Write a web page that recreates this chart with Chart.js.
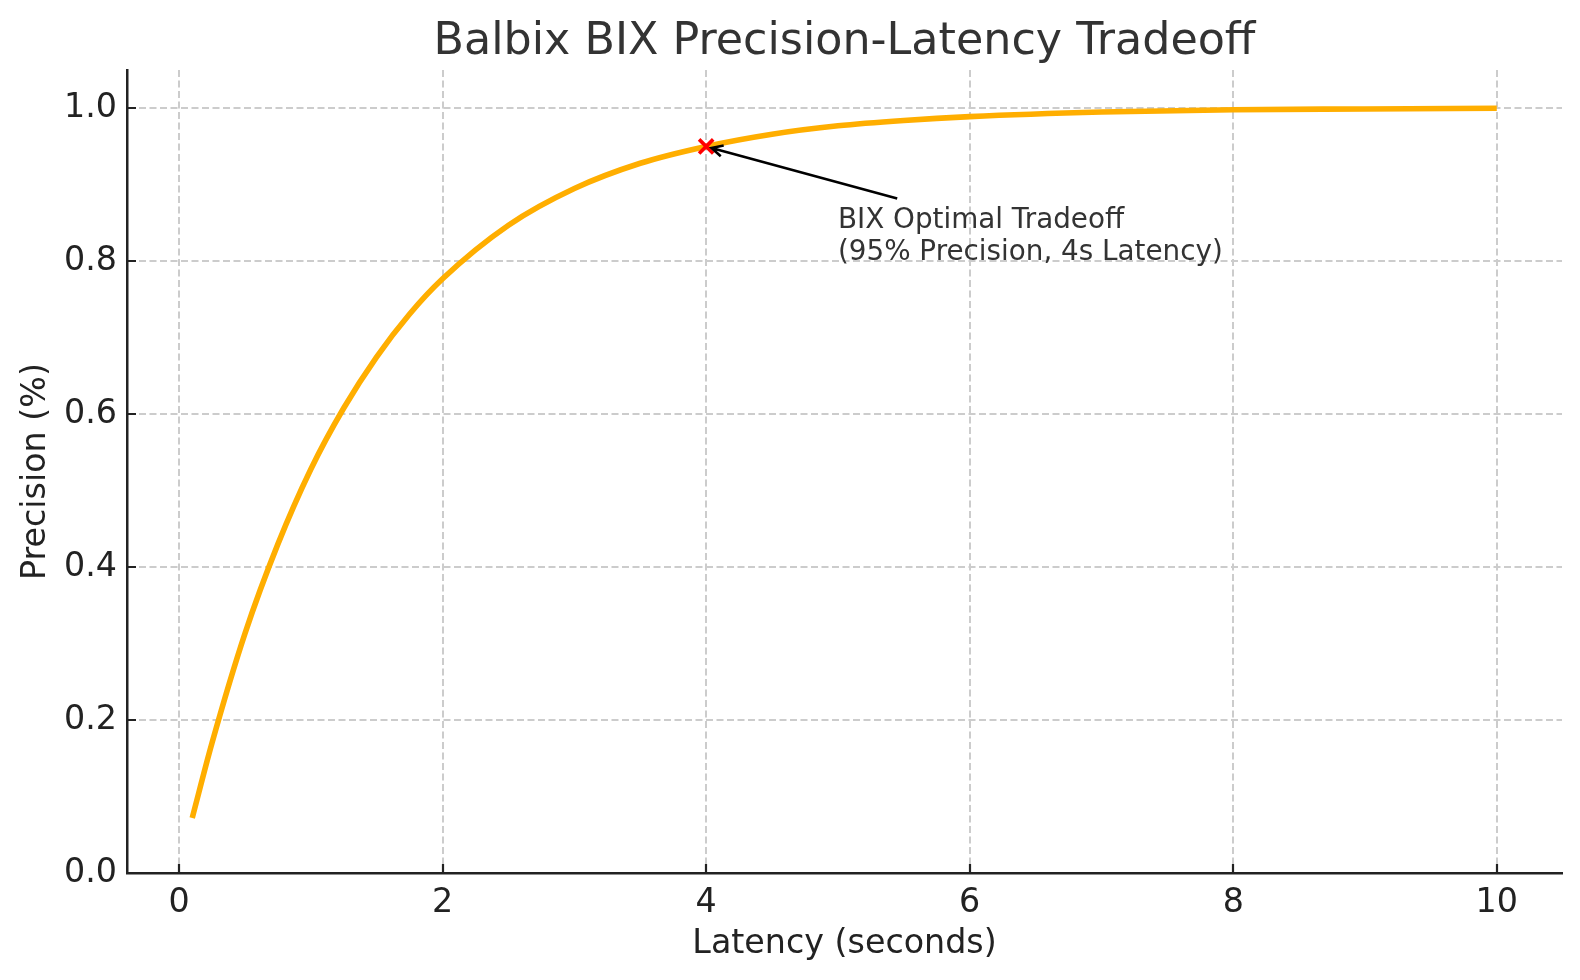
<!DOCTYPE html>
<html>
<head>
<meta charset="utf-8">
<script src="https://cdn.jsdelivr.net/npm/chart.js@4.4.1/dist/chart.umd.min.js"></script>
<style>
  body { margin: 0; background: white; }
  #wrap { width: 1580px; height: 980px; }
</style>
</head>
<body>
<div id="wrap"><canvas id="tradeoff"></canvas></div>
<script>
// latency in seconds, precision as a fraction
const latency   = [0.1, 0.25, 0.5, 0.75, 1.0, 1.25, 1.5, 1.75, 2.0, 2.5, 3.0, 3.5, 4.0, 4.5, 5.0, 5.5, 6.0, 7.0, 8.0, 9.0, 10.0];
const precision = [0.072, 0.17, 0.313, 0.43, 0.528, 0.608, 0.675, 0.731, 0.777, 0.847, 0.895, 0.928, 0.95, 0.966, 0.977, 0.984, 0.989, 0.995, 0.998, 0.999, 1.0];

const xTicks = [0, 2, 4, 6, 8, 10];
const yTicks = [0, 0.2, 0.4, 0.6, 0.8, 1.0];

const optimal = { x: 4, y: 0.95 };
const noteText = ['BIX Optimal Tradeoff', '(95% Precision, 4s Latency)'];
const notePos = { x: 5, y: 0.8 };
const arrowTail = { x: 5.45, y: 0.882 };

const FONT = "'DejaVu Sans', sans-serif";
const ctx = document.getElementById('tradeoff');

const extras = {
  id: 'extras',
  afterDatasetsDraw(chart) {
    const c = chart.ctx;
    const a = chart.chartArea;
    const sx = chart.scales.x, sy = chart.scales.y;
    c.save();

    // little inward tick marks like the original
    c.strokeStyle = '#222';
    c.lineWidth = 2.2;
    c.beginPath();
    xTicks.forEach(function (v) {
      const px = Math.round(sx.getPixelForValue(v));
      c.moveTo(px, a.bottom);
      c.lineTo(px, a.bottom - 9);
    });
    yTicks.forEach(function (v) {
      const py = Math.round(sy.getPixelForValue(v));
      c.moveTo(a.left, py);
      c.lineTo(a.left + 9, py);
    });
    c.stroke();

    // arrow from the note to the point
    const hx = sx.getPixelForValue(optimal.x), hy = sy.getPixelForValue(optimal.y);
    const tx = sx.getPixelForValue(arrowTail.x), ty = sy.getPixelForValue(arrowTail.y);
    const ang = Math.atan2(hy - ty, hx - tx);
    const ex = hx - 5.6 * Math.cos(ang), ey = hy - 5.6 * Math.sin(ang);
    c.strokeStyle = '#000';
    c.lineWidth = 2.6;
    c.lineCap = 'butt';
    c.beginPath();
    c.moveTo(tx, ty);
    c.lineTo(ex, ey);
    const hl = 12.4, spread = 0.47;
    c.moveTo(ex - hl * Math.cos(ang - spread), ey - hl * Math.sin(ang - spread));
    c.lineTo(ex, ey);
    c.lineTo(ex - hl * Math.cos(ang + spread), ey - hl * Math.sin(ang + spread));
    c.stroke();

    // note text
    c.fillStyle = '#333';
    c.font = '27.8px ' + FONT;
    c.textAlign = 'left';
    c.textBaseline = 'alphabetic';
    const nx = sx.getPixelForValue(notePos.x), ny = sy.getPixelForValue(notePos.y) - 1;
    c.fillText(noteText[1], nx, ny);
    c.fillText(noteText[0], nx, ny - 32.5);
    c.restore();
  }
};

new Chart(ctx, {
  type: 'scatter',
  data: {
    datasets: [
      {
        label: 'Optimal',
        data: [optimal],
        pointStyle: 'crossRot',
        pointRadius: 10,
        pointHoverRadius: 10,
        borderColor: '#ff0000',
        backgroundColor: '#ff0000',
        borderWidth: 3.6,
        order: 0
      },
      {
        label: 'Precision',
        data: latency.map(function (v, i) { return { x: v, y: precision[i] }; }),
        showLine: true,
        borderColor: '#ffae00',
        borderWidth: 5.6,
        borderCapStyle: 'butt',
        cubicInterpolationMode: 'monotone',
        pointRadius: 0,
        pointHoverRadius: 0,
        order: 1
      }
    ]
  },
  options: {
    responsive: true,
    maintainAspectRatio: false,
    animation: false,
    devicePixelRatio: 1,
    layout: { padding: { left: 0, right: 18, top: 0, bottom: 0 } },
    plugins: {
      legend: { display: false },
      tooltip: { enabled: false },
      title: {
        display: true,
        text: 'Balbix BIX Precision-Latency Tradeoff',
        color: '#333',
        fullSize: false,
        font: { family: FONT, size: 44.4, weight: 'normal', lineHeight: 1.2 },
        padding: { top: 16.2, bottom: 0.5 }
      }
    },
    scales: {
      x: {
        type: 'linear',
        min: -0.395,
        max: 10.495,
        afterBuildTicks: function (s) { s.ticks = xTicks.map(function (v) { return { value: v }; }); },
        afterFit: function (s) { s.height = 107; },
        ticks: {
          color: '#222',
          padding: 10,
          maxRotation: 0,
          font: { family: FONT, size: 33.3 },
          callback: function (v) { return String(v); }
        },
        grid: { color: '#cccccc', lineWidth: 2, drawTicks: false },
        border: { display: true, color: '#222', width: 2.5, dash: [7, 3.5] },
        title: {
          display: true,
          text: 'Latency (seconds)',
          color: '#222',
          font: { family: FONT, size: 33.3, lineHeight: 1.2 },
          padding: { top: 0, bottom: 16 }
        }
      },
      y: {
        type: 'linear',
        min: 0,
        max: 1.05,
        afterBuildTicks: function (s) { s.ticks = yTicks.map(function (v) { return { value: v }; }); },
        afterFit: function (s) { s.width = 127; },
        ticks: {
          color: '#222',
          padding: 10,
          font: { family: FONT, size: 33.3 },
          callback: function (v) { return v.toFixed(1); }
        },
        grid: { color: '#cccccc', lineWidth: 2, drawTicks: false },
        border: { display: true, color: '#222', width: 2.5, dash: [7, 3.5] },
        title: {
          display: true,
          text: 'Precision (%)',
          color: '#222',
          font: { family: FONT, size: 33.3, lineHeight: 1.2 },
          padding: { top: 16, bottom: 0 }
        }
      }
    }
  },
  plugins: [extras]
});
</script>
</body>
</html>
